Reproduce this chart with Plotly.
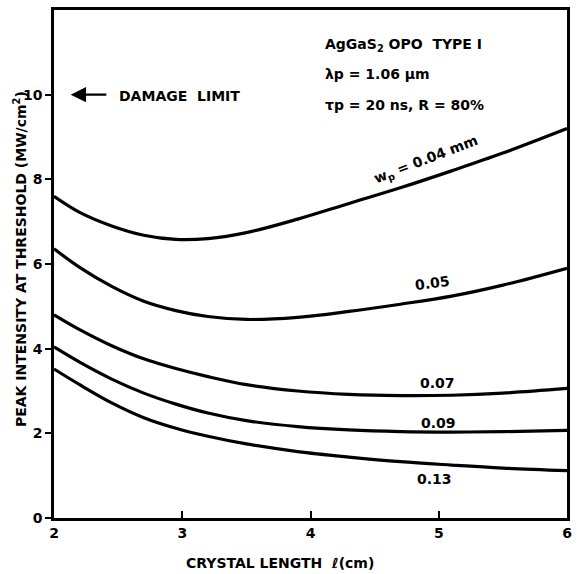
import plotly.graph_objects as go

x_vals = [2.0, 2.2, 2.45, 2.7, 2.95, 3.2, 3.5, 3.9, 4.3, 4.7, 5.1, 5.5, 6.0]
wp_004 = [7.6, 7.22, 6.9, 6.68, 6.58, 6.6, 6.74, 7.06, 7.43, 7.8, 8.2, 8.62, 9.2]
wp_005 = [6.36, 5.92, 5.47, 5.12, 4.9, 4.76, 4.69, 4.74, 4.88, 5.05, 5.24, 5.5, 5.9]
wp_007 = [4.8, 4.45, 4.07, 3.76, 3.53, 3.34, 3.15, 3.0, 2.92, 2.89, 2.9, 2.95, 3.06]
wp_009 = [4.04, 3.68, 3.28, 2.95, 2.69, 2.48, 2.3, 2.16, 2.08, 2.04, 2.03, 2.04, 2.07]
wp_013 = [3.52, 3.15, 2.72, 2.37, 2.12, 1.93, 1.75, 1.57, 1.44, 1.33, 1.25, 1.18, 1.12]

series = [wp_004, wp_005, wp_007, wp_009, wp_013]

x_ticks = [2, 3, 4, 5, 6]
y_ticks = [0, 2, 4, 6, 8, 10]

FONT = "DejaVu Sans"

fig = go.Figure()
for s in series:
    fig.add_trace(go.Scatter(x=x_vals, y=s, mode="lines",
                             line=dict(color="black", width=3.2, shape="spline", smoothing=1.0),
                             showlegend=False, hoverinfo="skip"))

tf = dict(family=FONT, size=14, color="black", weight=700)
anns = [
    dict(x=4.1, y=11.18, text="AgGaS<sub>2</sub> OPO  TYPE I", xanchor="left"),
    dict(x=4.1, y=10.5, text="λp = 1.06 μm", xanchor="left"),
    dict(x=4.1, y=9.75, text="τp = 20 ns, R = 80%", xanchor="left"),
    dict(x=2.49, y=9.98, text="DAMAGE  LIMIT", xanchor="left"),
    dict(x=4.9, y=8.46, text="w<sub>p</sub> = 0.04 mm", textangle=-21),
    dict(x=4.95, y=5.55, text="0.05", textangle=-8),
    dict(x=4.99, y=3.19, text="0.07"),
    dict(x=5.0, y=2.25, text="0.09"),
    dict(x=4.97, y=0.92, text="0.13"),
]
for a in anns:
    fig.add_annotation(showarrow=False, font=tf, xref="x", yref="y", **a)

# axis titles
fig.add_annotation(xref="paper", yref="paper", x=0.44, y=-0.088, showarrow=False,
                   xanchor="center", yanchor="middle",
                   text="CRYSTAL LENGTH  ℓ(cm)", font=tf)
fig.add_annotation(xref="paper", yref="paper", x=-0.066, y=0.51, showarrow=False,
                   xanchor="center", yanchor="middle", textangle=-90,
                   text="PEAK INTENSITY AT THRESHOLD (MW/cm<sup>2</sup>)", font=tf)

fig.add_annotation(x=2.13, y=10.0, ax=2.42, ay=10.0, axref="x", ayref="y",
                   xref="x", yref="y", text="", showarrow=True,
                   arrowhead=2, arrowsize=1.4, arrowwidth=2.2, arrowcolor="black")

fig.update_layout(
    width=577, height=574,
    margin=dict(l=54, r=5, t=10, b=56),
    paper_bgcolor="white", plot_bgcolor="white",
    font=dict(family=FONT, size=14, color="black", weight=700),
)
fig.update_xaxes(range=[2, 6], tickvals=x_ticks, ticks="inside", ticklen=7,
                 tickwidth=2, tickcolor="black", showline=True, linewidth=2.5,
                 linecolor="black", mirror=True, showgrid=False, zeroline=False,
                 tickfont=dict(family=FONT, size=14, weight=700))
fig.update_yaxes(range=[0, 12], tickvals=y_ticks, ticks="outside", ticklen=6,
                 tickwidth=2, tickcolor="black", showline=True, linewidth=2.5,
                 linecolor="black", mirror=True, showgrid=False, zeroline=False,
                 tickfont=dict(family=FONT, size=14, weight=700))

fig.write_html("out.html")
